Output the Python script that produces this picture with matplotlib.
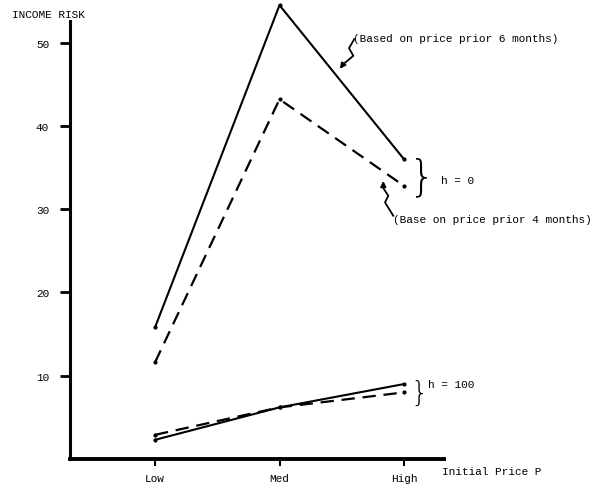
import numpy as np
import matplotlib.pyplot as plt

plt.rcParams['font.family'] = ['Liberation Mono', 'DejaVu Sans Mono']

categories = ['Low', 'Med', 'High']
h0_6months = [15.8, 54.5, 36.0]
h0_4months = [11.6, 43.2, 32.8]
h100_6months = [2.3, 6.2, 9.0]
h100_4months = [2.9, 6.2, 8.0]

W, H = 604, 485
fig = plt.figure(figsize=(W / 100, H / 100), dpi=100)
ax = fig.add_axes([70 / W, 25 / H, 374 / W, 438 / H])

x = np.arange(1, len(categories) + 1)
ax.plot(x, h0_6months, '-', color='black', lw=1.5, marker='.', ms=4, clip_on=False)
ax.plot(x, h0_4months, '--', color='black', lw=1.6, dashes=(6, 3.5), marker='.', ms=4, clip_on=False)
ax.plot(x, h100_6months, '-', color='black', lw=1.5, marker='.', ms=4, clip_on=False)
ax.plot(x, h100_4months, '--', color='black', lw=1.6, dashes=(6, 3.5), marker='.', ms=4, clip_on=False)

ax.set_xlim(1 - 85 / 124.5, 3 + 40 / 124.5)
ax.set_ylim(0, 52.6)
ax.spines['top'].set_visible(False)
ax.spines['right'].set_visible(False)
ax.spines['left'].set_linewidth(2.2)
ax.spines['bottom'].set_linewidth(2.8)
ax.set_yticks([10, 20, 30, 40, 50])
ax.set_xticks(x)
ax.set_xticklabels(categories)
ax.tick_params(axis='y', length=7, width=2, direction='out', labelsize=8, pad=8)
ax.tick_params(axis='x', length=5, width=1.5, direction='out', labelsize=8, pad=5)


def px(u, v):
    return 1 + (u - 155) / 124.5, (460 - v) / 8.33


# squiggly pointers
top = [px(*p) for p in [(354.3, 40), (349, 49), (353.3, 56.7), (343.3, 65)]]
ax.plot([p[0] for p in top], [p[1] for p in top], color='black', lw=1.3, clip_on=False)
ax.annotate('', xy=px(338.3, 72), xytext=top[-1],
            arrowprops=dict(arrowstyle='-|>', color='black', lw=1.3, mutation_scale=8))
bot = [px(*p) for p in [(393.3, 216.7), (385, 203.3), (388.3, 196.7), (383.3, 189)]]
ax.plot([p[0] for p in bot], [p[1] for p in bot], color='black', lw=1.3, clip_on=False)
ax.annotate('', xy=px(383.3, 179), xytext=bot[-1],
            arrowprops=dict(arrowstyle='-|>', color='black', lw=1.3, mutation_scale=8))


def ftext(u, v, s, **kw):
    fig.text(u / W, 1 - v / H, s, fontsize=8, va='center', **kw)


ftext(12, 15, 'INCOME RISK')
ftext(353, 39, '(Based on price prior 6 months)')
ftext(393, 220, '(Base on price prior 4 months)')
ftext(441, 181, 'h = 0')
ftext(428, 385, 'h = 100')
ftext(442, 472, 'Initial Price P')
fig.text(422 / W, 1 - 178 / H, '}', fontsize=30, va='center', ha='center',
         family='DejaVu Sans', fontweight='light')
fig.text(419 / W, 1 - 394 / H, '}', fontsize=20, va='center', ha='center',
         family='DejaVu Sans', fontweight='light')

fig.savefig('out.png', dpi=100)
